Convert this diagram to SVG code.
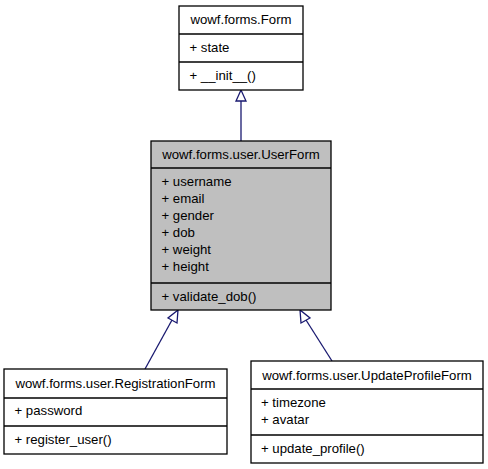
<svg xmlns="http://www.w3.org/2000/svg" width="488" height="469" viewBox="0 0 488 469">
<style>
text{font-family:"Liberation Sans",Arial,sans-serif;font-size:13.2px;fill:#000}
.t{text-anchor:middle}
.b{fill:#fff;stroke:#000;stroke-width:1.3}
.g{fill:#bfbfbf;stroke:#000;stroke-width:1.3}
.d{stroke:#000;stroke-width:1.3}
.e{stroke:#191970;stroke-width:1.3;fill:none}
.h{fill:#fff;stroke:#191970;stroke-width:1.3}
</style>
<rect width="488" height="469" fill="#fff"/>
<g id="connectors">
<line class="e" x1="241" y1="101" x2="241" y2="141"/>
<polygon class="h" points="241,90 236,101 246,101"/>
<line class="e" x1="145" y1="369" x2="172" y2="320"/>
<polygon class="h" points="178,310 168,318 177,323"/>
<line class="e" x1="332" y1="361" x2="306" y2="320"/>
<polygon class="h" points="300,310 301,323 310,318"/>
</g>
<g id="Form">
<rect class="b" x="179" y="6" width="124" height="84"/>
<line class="d" x1="179" y1="34" x2="303" y2="34"/>
<line class="d" x1="179" y1="62" x2="303" y2="62"/>
<text class="t" x="241" y="24">wowf.forms.Form</text>
<text x="189.5" y="52">+ state</text>
<text x="189.5" y="80">+ __init__()</text>
</g>
<g id="UserForm">
<rect class="g" x="151" y="141" width="180" height="169"/>
<line class="d" x1="151" y1="168" x2="331" y2="168"/>
<line class="d" x1="151" y1="283" x2="331" y2="283"/>
<text class="t" x="241" y="159">wowf.forms.user.UserForm</text>
<text x="161.5" y="186">+ username</text>
<text x="161.5" y="203">+ email</text>
<text x="161.5" y="220">+ gender</text>
<text x="161.5" y="237">+ dob</text>
<text x="161.5" y="254">+ weight</text>
<text x="161.5" y="271">+ height</text>
<text x="161.5" y="301">+ validate_dob()</text>
</g>
<g id="RegistrationForm">
<rect class="b" x="4" y="369" width="223" height="85"/>
<line class="d" x1="4" y1="398" x2="227" y2="398"/>
<line class="d" x1="4" y1="426" x2="227" y2="426"/>
<text class="t" x="115.5" y="388">wowf.forms.user.RegistrationForm</text>
<text x="14.5" y="415">+ password</text>
<text x="14.5" y="444">+ register_user()</text>
</g>
<g id="UpdateProfileForm">
<rect class="b" x="251" y="361" width="232" height="102"/>
<line class="d" x1="251" y1="389" x2="483" y2="389"/>
<line class="d" x1="251" y1="435" x2="483" y2="435"/>
<text class="t" x="367" y="380">wowf.forms.user.UpdateProfileForm</text>
<text x="261" y="407">+ timezone</text>
<text x="261" y="424">+ avatar</text>
<text x="261" y="453">+ update_profile()</text>
</g>
</svg>
